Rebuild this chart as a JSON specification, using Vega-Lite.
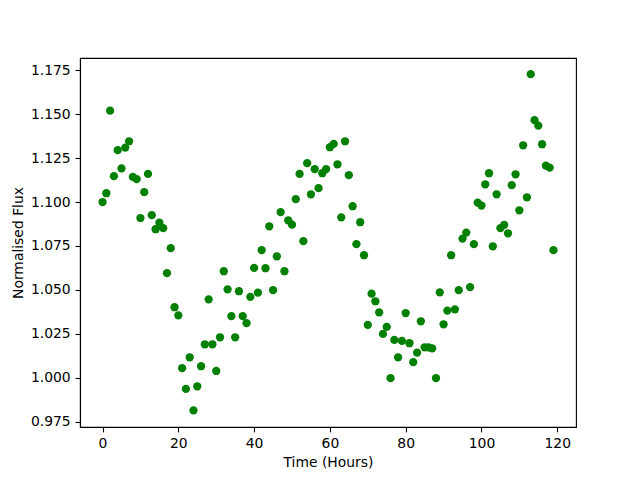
{
  "$schema": "https://vega.github.io/schema/vega-lite/v6.json",
  "width": 496,
  "height": 369,
  "autosize": {"type": "none"},
  "padding": {"left": 80, "top": 58, "right": 64, "bottom": 53},
  "background": "white",
  "config": {
    "view": {"stroke": "black", "strokeWidth": 1.1},
    "axis": {
      "grid": false,
      "domainColor": "black",
      "domainWidth": 1.1,
      "tickColor": "black",
      "tickSize": 4.9,
      "tickWidth": 1.1,
      "labelFont": "DejaVu Sans",
      "labelFontSize": 13.9,
      "labelColor": "black",
      "labelPadding": 4.9,
      "titleFont": "DejaVu Sans",
      "titleFontSize": 13.9,
      "titleFontWeight": "normal",
      "titleColor": "black"
    }
  },
  "data": {
    "values": [
      {"t": 0, "f": 1.100}, {"t": 1, "f": 1.105}, {"t": 2, "f": 1.152}, {"t": 3, "f": 1.1147},
      {"t": 4, "f": 1.1295}, {"t": 5, "f": 1.1192}, {"t": 6, "f": 1.131}, {"t": 7, "f": 1.1346},
      {"t": 8, "f": 1.1143}, {"t": 9, "f": 1.113}, {"t": 10, "f": 1.0909}, {"t": 11, "f": 1.1056},
      {"t": 12, "f": 1.116}, {"t": 13, "f": 1.0925}, {"t": 14, "f": 1.0845}, {"t": 15, "f": 1.0883},
      {"t": 16, "f": 1.0851}, {"t": 17, "f": 1.0595}, {"t": 18, "f": 1.0737}, {"t": 19, "f": 1.0401},
      {"t": 20, "f": 1.0355}, {"t": 21, "f": 1.0054}, {"t": 22, "f": 0.9936}, {"t": 23, "f": 1.0116},
      {"t": 24, "f": 0.9814}, {"t": 25, "f": 0.9951}, {"t": 26, "f": 1.0065}, {"t": 27, "f": 1.019},
      {"t": 28, "f": 1.0446}, {"t": 29, "f": 1.019}, {"t": 30, "f": 1.0038}, {"t": 31, "f": 1.023},
      {"t": 32, "f": 1.0606}, {"t": 33, "f": 1.0503}, {"t": 34, "f": 1.035}, {"t": 35, "f": 1.023},
      {"t": 36, "f": 1.0492}, {"t": 37, "f": 1.035}, {"t": 38, "f": 1.031}, {"t": 39, "f": 1.046},
      {"t": 40, "f": 1.0625}, {"t": 41, "f": 1.0484}, {"t": 42, "f": 1.0726}, {"t": 43, "f": 1.0623},
      {"t": 44, "f": 1.0862}, {"t": 45, "f": 1.0498}, {"t": 46, "f": 1.0691}, {"t": 47, "f": 1.0942},
      {"t": 48, "f": 1.0606}, {"t": 49, "f": 1.0896}, {"t": 50, "f": 1.0871}, {"t": 51, "f": 1.1016},
      {"t": 52, "f": 1.116}, {"t": 53, "f": 1.0777}, {"t": 54, "f": 1.1221}, {"t": 55, "f": 1.1044},
      {"t": 56, "f": 1.1187}, {"t": 57, "f": 1.1079}, {"t": 58, "f": 1.1164}, {"t": 59, "f": 1.1187},
      {"t": 60, "f": 1.1312}, {"t": 61, "f": 1.1331}, {"t": 62, "f": 1.1215}, {"t": 63, "f": 1.0913},
      {"t": 64, "f": 1.1346}, {"t": 65, "f": 1.1153}, {"t": 66, "f": 1.0976}, {"t": 67, "f": 1.076},
      {"t": 68, "f": 1.0885}, {"t": 69, "f": 1.0697}, {"t": 70, "f": 1.03}, {"t": 71, "f": 1.0478},
      {"t": 72, "f": 1.0435}, {"t": 73, "f": 1.0372}, {"t": 74, "f": 1.0249}, {"t": 75, "f": 1.0289},
      {"t": 76, "f": 0.9997}, {"t": 77, "f": 1.0215}, {"t": 78, "f": 1.0116}, {"t": 79, "f": 1.0209},
      {"t": 80, "f": 1.0368}, {"t": 81, "f": 1.0196}, {"t": 82, "f": 1.0088}, {"t": 83, "f": 1.0142},
      {"t": 84, "f": 1.0321}, {"t": 85, "f": 1.0173}, {"t": 86, "f": 1.0173}, {"t": 87, "f": 1.0167},
      {"t": 88, "f": 0.9997}, {"t": 89, "f": 1.0486}, {"t": 90, "f": 1.0304}, {"t": 91, "f": 1.0382},
      {"t": 92, "f": 1.0697}, {"t": 93, "f": 1.0389}, {"t": 94, "f": 1.0498}, {"t": 95, "f": 1.0792},
      {"t": 96, "f": 1.0826}, {"t": 97, "f": 1.0515}, {"t": 98, "f": 1.076}, {"t": 99, "f": 1.0997},
      {"t": 100, "f": 1.098}, {"t": 101, "f": 1.1101}, {"t": 102, "f": 1.1164}, {"t": 103, "f": 1.0748},
      {"t": 104, "f": 1.1044}, {"t": 105, "f": 1.0851}, {"t": 106, "f": 1.087}, {"t": 107, "f": 1.0822},
      {"t": 108, "f": 1.1096}, {"t": 109, "f": 1.1158}, {"t": 110, "f": 1.0953}, {"t": 111, "f": 1.1323},
      {"t": 112, "f": 1.1027}, {"t": 113, "f": 1.1728}, {"t": 114, "f": 1.1466}, {"t": 115, "f": 1.1435},
      {"t": 116, "f": 1.1329}, {"t": 117, "f": 1.1207}, {"t": 118, "f": 1.1196}, {"t": 119, "f": 1.0726}
    ]
  },
  "mark": {"type": "point", "filled": true, "opacity": 1, "color": "#008000", "size": 68},
  "encoding": {
    "x": {
      "field": "t",
      "type": "quantitative",
      "scale": {"domain": [-5.95, 124.95], "nice": false, "zero": false},
      "axis": {"values": [0, 20, 40, 60, 80, 100, 120], "title": "Time (Hours)", "titlePadding": 5}
    },
    "y": {
      "field": "f",
      "type": "quantitative",
      "scale": {"domain": [0.9719, 1.182], "nice": false, "zero": false},
      "axis": {
        "values": [0.975, 1.0, 1.025, 1.05, 1.075, 1.1, 1.125, 1.15, 1.175],
        "format": ".3f",
        "title": "Normalised Flux",
        "titlePadding": 5
      }
    }
  }
}
